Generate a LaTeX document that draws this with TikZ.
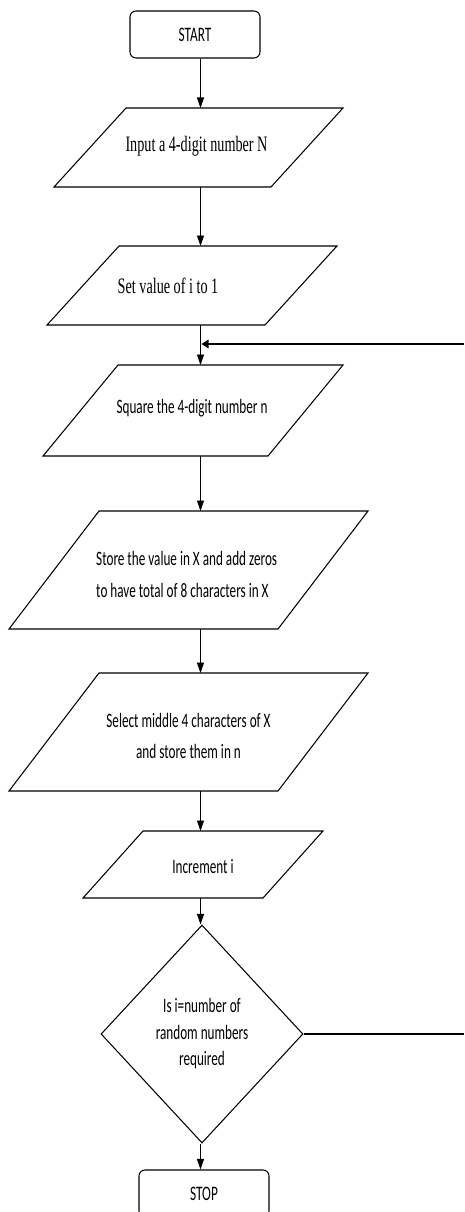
\documentclass[tikz,border=0pt]{standalone}
\usepackage{fontspec}
\usepackage{graphicx}
\setmainfont{Liberation Serif}
\newfontfamily\calib{Carlito}
\usetikzlibrary{shapes.geometric,arrows.meta}

% text in this chart is set tall and narrow
\newcommand\tall[1]{\scalebox{1}[1.55]{#1}}
% input/output parallelogram around a frame node, #2 = horizontal slant
\newcommand\ioshape[2]{\draw[outline] ([xshift=#2]#1.north west) -- (#1.north east) -- ([xshift=-#2]#1.south east) -- (#1.south west) -- cycle;}

\begin{document}
\begin{tikzpicture}[x=1pt,y=-1pt,
  outline/.style={draw=black, line width=1.05pt, line join=miter},
  frame/.style={rectangle, inner sep=0pt, outer sep=0pt},
  term/.style={outline, rectangle, rounded corners=6pt, minimum width=130pt,
    minimum height=47pt, inner sep=0pt, font=\calib\fontsize{13.3}{16}\selectfont},
  decision/.style={outline, diamond, minimum width=202pt, minimum height=218pt,
    inner sep=0pt, font=\calib\fontsize{13.2}{17.1}\selectfont},
  serif/.style={inner sep=0pt, font=\fontsize{14.2}{17}\selectfont},
  sans/.style={inner sep=0pt, font=\calib\fontsize{13.2}{20.4}\selectfont},
  downarr/.style={line width=0.95pt, -{Triangle[length=10.5pt,width=7pt]}},
  sidearr/.style={line width=1.4pt, -{Triangle[length=7pt,width=8.5pt]}},
  plain/.style={line width=1.4pt}
]
\useasboundingbox (0,0) rectangle (464,1212);

% vertical flow line
\coordinate (spine) at (200.5,0);

% terminals
\node[term] (start) at (195,34.5) {\tall{START}};
\node[term] (stop) at (204,1193.5) {\tall{STOP}};

% parallelogram frames
\node[frame, minimum width=289pt, minimum height=79pt]  (input)  at (198.5,147.5) {};
\node[frame, minimum width=290pt, minimum height=79pt]  (set)    at (192,285.5) {};
\node[frame, minimum width=300pt, minimum height=91pt]  (square) at (193,410.5) {};
\node[frame, minimum width=359pt, minimum height=118pt] (store)  at (188.5,570) {};
\node[frame, minimum width=359pt, minimum height=118pt] (select) at (188.5,732) {};
\node[frame, minimum width=240pt, minimum height=67pt]  (incr)   at (203,864.5) {};

\ioshape{input}{72}
\ioshape{set}{72}
\ioshape{square}{75}
\ioshape{store}{90}
\ioshape{select}{90}
\ioshape{incr}{60}

% texts of the parallelograms
\node[serif] (input-text) at (196.5,146.7) {\tall{Input a 4-digit number N}};
\node[serif] (set-text) at (168,285.7) {\tall{Set value of i to 1}};
\node[sans] (square-text) at (192,408) {\tall{Square the 4-digit number n}};
\node[sans, anchor=west] (store-text) at (96,575) {\tall{\begin{tabular}{@{}l@{}}Store the value in X and add zeros\\to have total of 8 characters in X\end{tabular}}};
\node[sans] (select-text) at (188.5,736.5) {\tall{\begin{tabular}{@{}c@{}}Select middle 4 characters of X\\and store them in n\end{tabular}}};
\node[sans] (incr-text) at (203,867) {\tall{Increment i}};

% decision
\node[decision] (dec) at (202,1034) {\tall{\begin{tabular}{@{}c@{}}Is i=number of\\random numbers\\required\end{tabular}}};

% flow arrows
\draw[downarr] (start.south -| spine) -- (input.north -| spine);
\draw[downarr] (input.south -| spine) -- (set.north -| spine);
\draw[downarr] (set.south -| spine) -- (square.north -| spine);
\draw[downarr] (square.south -| spine) -- (store.north -| spine);
\draw[downarr] (store.south -| spine) -- (select.north -| spine);
\draw[downarr] (select.south -| spine) -- (incr.north -| spine);
\draw[downarr] (incr.south -| spine) -- (dec.north -| spine);
\draw[downarr] (dec.south -| spine) -- (stop.north -| spine);

% loop back
\coordinate (loop-out) at (464,1034);
\coordinate (loop-in) at (464,344);
\coordinate (join) at (201.5,344);
\draw[plain] (dec.east) -- (loop-out);
\draw[sidearr] (loop-in) -- (join);
\end{tikzpicture}
\end{document}
